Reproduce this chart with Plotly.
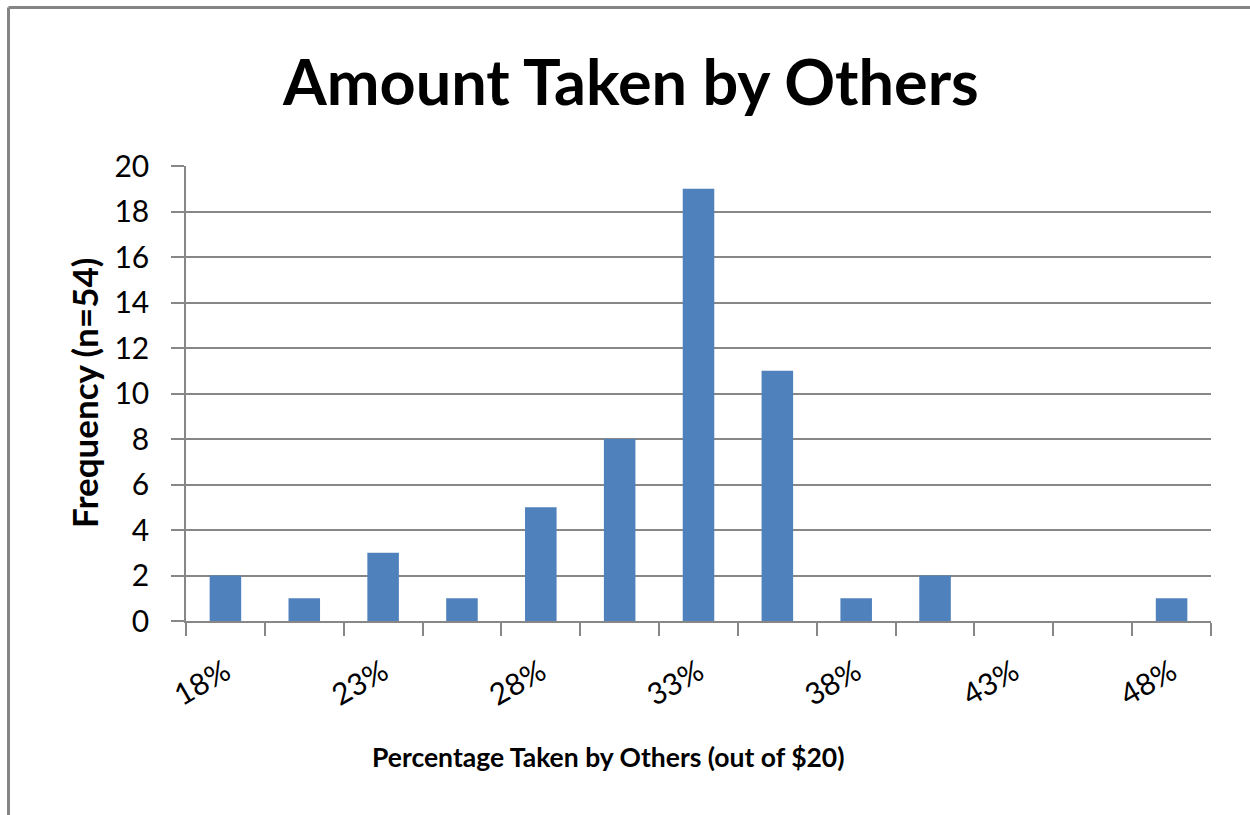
import plotly.graph_objects as go

# Category bins (percentage of $20 taken by others) and their frequencies
bins = ["18%", "20.5%", "23%", "25.5%", "28%", "30.5%", "33%",
        "35.5%", "38%", "40.5%", "43%", "45.5%", "48%"]
shown_labels = ["18%", "23%", "28%", "33%", "38%", "43%", "48%"]
frequency = [2, 1, 3, 1, 5, 8, 19, 11, 1, 2, 0, 0, 1]
y_ticks = list(range(0, 21, 2))

W, H = 1250, 815
L, R, T, B = 186, 1211, 166, 621  # plot area in pixels


def px_x(p):
    return (p - L) / (R - L)


def px_y(p):
    return (B - p) / (B - T)


FONT = "Lato"
GRID = "#878787"
BAR = "#4F81BD"

idx = list(range(len(bins)))
label_pos = [bins.index(s) for s in shown_labels]

fig = go.Figure()
fig.add_trace(go.Bar(
    x=idx, y=frequency, marker=dict(color=BAR, line=dict(width=0)),
    width=0.4, hovertext=bins, xaxis="x", yaxis="y",
))
# invisible trace to activate the label axis
fig.add_trace(go.Scatter(x=[idx[0]], y=[0], mode="markers",
                         marker=dict(opacity=0), xaxis="x2", yaxis="y",
                         showlegend=False, hoverinfo="skip"))

fig.update_layout(
    width=W, height=H,
    margin=dict(l=L, r=W - R, t=T, b=H - B, pad=0),
    paper_bgcolor="white", plot_bgcolor="white",
    showlegend=False,
    font=dict(family=FONT, color="black"),
    xaxis=dict(
        range=[-0.5, len(bins) - 0.5],
        tickvals=[i - 0.5 for i in range(len(bins) + 1)],
        showticklabels=False, ticks="outside", ticklen=13, tickwidth=1.5,
        tickcolor=GRID, showgrid=False, zeroline=False,
        showline=True, linecolor=GRID, linewidth=1.5,
    ),
    xaxis2=dict(
        overlaying="x", anchor="y", side="bottom",
        range=[-0.5, len(bins) - 0.5],
        tickvals=label_pos, ticktext=shown_labels,
        tickangle=-30, ticks="", showgrid=False, zeroline=False,
        showline=False, tickfont=dict(size=30, family=FONT),
        ticklabelstandoff=27,
    ),
    yaxis=dict(
        range=[0, 20], tickvals=y_ticks,
        ticks="outside", ticklen=13, tickwidth=1.5, tickcolor=GRID,
        showgrid=True, gridcolor=GRID, gridwidth=1.5,
        zeroline=False, showline=True, linecolor=GRID, linewidth=1.5,
        tickfont=dict(size=30, family=FONT), ticklabelstandoff=16,
    ),
    bargap=0.6,
    annotations=[
        dict(text="<b>Amount Taken by Others</b>", xref="paper", yref="paper",
             x=px_x(630), y=px_y(80), xanchor="center", yanchor="middle",
             showarrow=False, font=dict(size=63, family=FONT)),
        dict(text="<b>Percentage Taken by Others (out of $20)</b>",
             xref="paper", yref="paper",
             x=px_x(608), y=px_y(757), xanchor="center", yanchor="middle",
             showarrow=False, font=dict(size=26.5, family=FONT)),
        dict(text="<b>Frequency (n=54)</b>", xref="paper", yref="paper",
             x=px_x(84), y=px_y(393), xanchor="center", yanchor="middle",
             textangle=-90, showarrow=False, font=dict(size=35, family=FONT)),
    ],
    shapes=[
        # chart frame (top and left edges)
        dict(type="line", xref="paper", yref="paper",
             x0=px_x(8.5), x1=px_x(1300), y0=px_y(7.5), y1=px_y(7.5),
             line=dict(color="#858585", width=3)),
        dict(type="line", xref="paper", yref="paper",
             x0=px_x(8.5), x1=px_x(8.5), y0=px_y(7.5), y1=px_y(900),
             line=dict(color="#858585", width=3)),
    ],
)

fig.write_html("out.html")
